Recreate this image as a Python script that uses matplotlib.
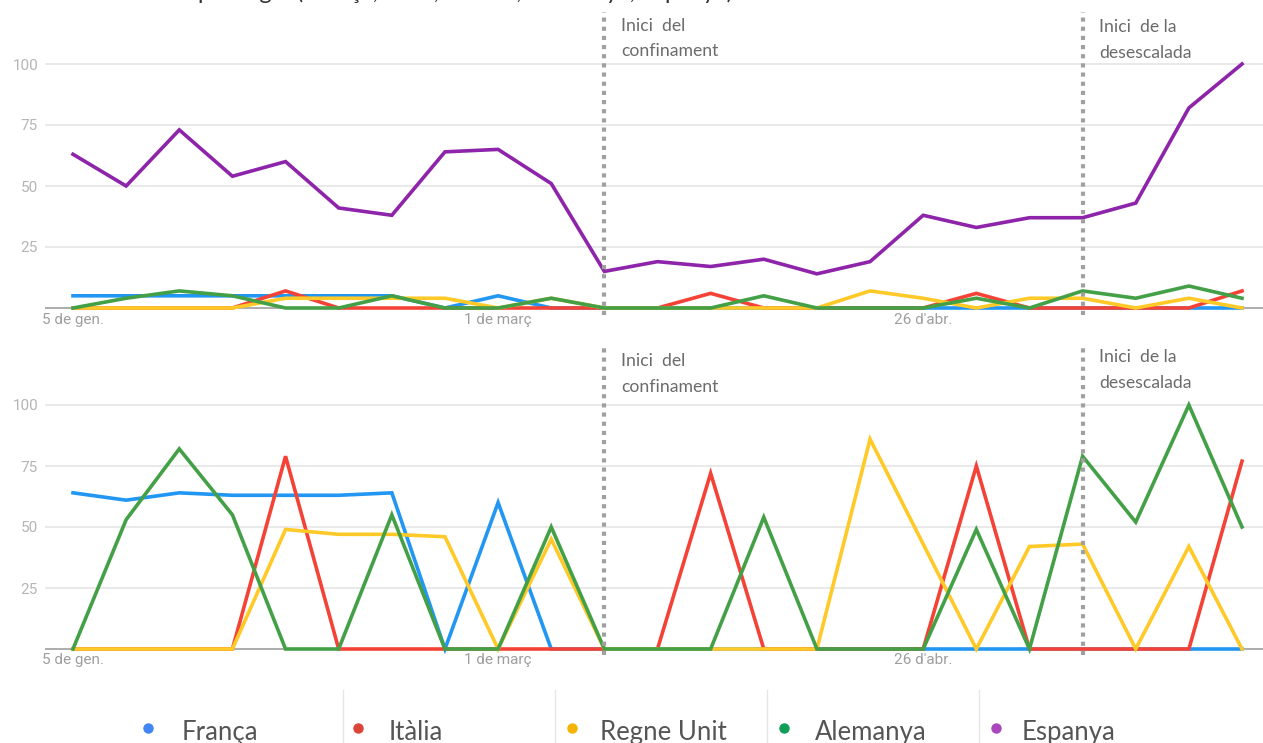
import numpy as np
import matplotlib
matplotlib.use("Agg")
import matplotlib.pyplot as plt
from matplotlib.lines import Line2D

W, H = 1263, 743

# setmanes (índex 0 = 5 de gen.)
weeks = np.arange(23)
tick_idx = [0, 8, 16]
tick_labels = ["5 de gen.", "1 de març", "26 d'abr."]
event_idx = [10, 19]
event_text = [("Inici  del", "confinament"), ("Inici  de la", "desescalada")]

countries = ["França", "Itàlia", "Regne Unit", "Alemanya", "Espanya"]

# panell superior
top_franca   = [5, 5, 5, 5, 5, 5, 5, 0, 5, 0, 0, 0, 0, 0, 0, 0, 0, 0, 0, 0, 0, 0, 0]
top_italia   = [0, 0, 0, 0, 7, 0, 0, 0, 0, 0, 0, 0, 6, 0, 0, 0, 0, 6, 0, 0, 0, 0, 7]
top_regne    = [0, 0, 0, 0, 4, 4, 4, 4, 0, 4, 0, 0, 0, 0, 0, 7, 4, 0, 4, 4, 0, 4, 0]
top_alemanya = [0, 4, 7, 5, 0, 0, 5, 0, 0, 4, 0, 0, 0, 5, 0, 0, 0, 4, 0, 7, 4, 9, 4]
top_espanya  = [63, 50, 73, 54, 60, 41, 38, 64, 65, 51, 15, 19, 17, 20, 14, 19, 38, 33, 37, 37, 43, 82, 100]

# panell inferior (sense Espanya)
bot_franca   = [64, 61, 64, 63, 63, 63, 64, 0, 60, 0, 0, 0, 0, 0, 0, 0, 0, 0, 0, 0, 0, 0, 0]
bot_italia   = [0, 0, 0, 0, 79, 0, 0, 0, 0, 0, 0, 0, 72, 0, 0, 0, 0, 75, 0, 0, 0, 0, 77]
bot_regne    = [0, 0, 0, 0, 49, 47, 47, 46, 0, 45, 0, 0, 0, 0, 0, 86, 43, 0, 42, 43, 0, 42, 0]
bot_alemanya = [0, 53, 82, 55, 0, 0, 55, 0, 0, 50, 0, 0, 0, 54, 0, 0, 0, 49, 0, 79, 52, 100, 50]

line_colors = ["#2196F3", "#F44336", "#FFC928", "#43A047", "#8E24AA"]
dot_colors = ["#4285F4", "#DB4437", "#F4B400", "#0F9D58", "#AB47BC"]


def fx(x): return x / W
def fy(y): return 1 - y / H


def panel(fig, top_px, bot_px, zero_px, series, ann_base):
    ax = fig.add_axes([fx(45), fy(bot_px), 1 - fx(45), (bot_px - top_px) / H])
    ppu = 2.44  # px per unitat
    ax.set_ylim(-(bot_px - zero_px) / ppu, (zero_px - top_px) / ppu)
    ax.set_xlim(-0.527, 22.395)
    for s in ax.spines.values():
        s.set_visible(False)
    ax.set_yticks([25, 50, 75, 100])
    ax.tick_params(axis="y", length=0, pad=5, labelsize=11, labelcolor="#b5b5b5")
    ax.set_xticks(tick_idx, tick_labels)
    ax.tick_params(axis="x", length=0, pad=-1.5, labelsize=11, labelcolor="#9e9e9e")
    for lab in ax.get_xticklabels() + ax.get_yticklabels():
        lab.set_fontfamily("Roboto")
    for g in [25, 50, 75, 100]:
        ax.axhline(g, color="#e3e3e3", lw=1.1, zorder=1)
    ax.axhline(0, color="#9e9e9e", lw=1.2, zorder=1)
    for i, s in enumerate(series):
        if s is None:
            continue
        ax.plot(weeks, s, color=line_colors[i], lw=2.6, zorder=3 + i,
                solid_joinstyle="miter")
    for k, ev in enumerate(event_idx):
        ax.axvline(ev, color="#a0a0a0", lw=3, ls=(0, (1, 1.2)), zorder=10)
        x0 = [621, 1099][k]
        b1, b2 = ann_base[k]
        fig.text(fx(x0), fy(b1), event_text[k][0], fontsize=12.7, family="Lato",
                 color="#6b6b6b", va="baseline")
        fig.text(fx(x0), fy(b2), event_text[k][1], fontsize=12.7, family="Lato",
                 color="#6b6b6b", va="baseline")
    return ax


fig = plt.figure(figsize=(W / 100, H / 100), dpi=100)

panel(fig, 12, 315, 308,
      [top_franca, top_italia, top_regne, top_alemanya, top_espanya],
      [(31, 56), (32, 58)])
panel(fig, 346, 655, 649,
      [bot_franca, bot_italia, bot_regne, bot_alemanya, None],
      [(366, 392), (362, 388)])

# títol (retallat a la part superior, només se'n veuen els descendents)
fig.text(fx(120), fy(-1), "Interès per regió (França, Itàlia, R. Unit, Alemanya, Espanya)",
         fontsize=17, family="Lato", color="#333333", va="baseline")

# llegenda
dot_x = [148, 358, 572, 784, 996]
lab_x = [182, 389, 600, 815, 1022]
for i, name in enumerate(countries):
    fig.add_artist(Line2D([fx(dot_x[i])], [fy(728)], marker="o", ms=6.5,
                          color=dot_colors[i], lw=0, transform=fig.transFigure))
    fig.text(fx(lab_x[i]), fy(740), name, fontsize=18.5, family="Lato",
             color="#555555", va="baseline")
for sx in [343, 555, 767, 979]:
    fig.add_artist(Line2D([fx(sx), fx(sx)], [fy(690), fy(743)], color="#e6e6e6",
                          lw=1, transform=fig.transFigure))

fig.savefig("out.png", dpi=100)
